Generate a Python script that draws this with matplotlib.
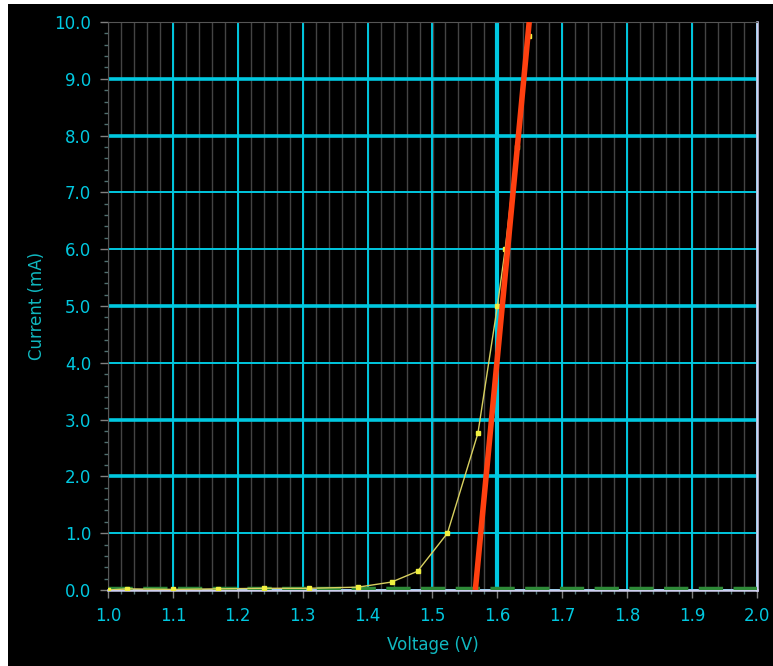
import numpy as np
import matplotlib.pyplot as plt
from matplotlib.patches import Rectangle

# measured I-V curve (V, mA)
voltage = [1.00, 1.03, 1.10, 1.17, 1.24, 1.31, 1.385, 1.437, 1.477, 1.523, 1.570, 1.600, 1.612, 1.630, 1.648]
current = [0.0, 0.02, 0.01, 0.02, 0.03, 0.03, 0.05, 0.14, 0.33, 1.00, 2.76, 5.00, 6.00, 7.80, 9.75]

# linear fit line (threshold extrapolation)
fit_v = [1.566, 1.649]
fit_i = [0.0, 10.0]

xticks = np.round(np.arange(1.0, 2.01, 0.1), 1)
yticks = np.arange(0, 11, 1.0)

cyan = '#00c8e0'
label_col = '#10b8c0'

fig = plt.figure(figsize=(7.73, 6.66), dpi=100, facecolor='white')
fig.patches.append(Rectangle((8/773, 0), 1, 1 - 4/666, transform=fig.transFigure,
                             facecolor='black', edgecolor='none', zorder=-10))
ax = fig.add_axes([108/773, 1 - 590/666, 649/773, 568/666])
ax.set_facecolor('black')

# minor vertical grid every 0.02
for v in np.arange(1.0, 2.0, 0.02):
    ax.axvline(v, color='#444444', lw=1.0, zorder=1)
# major grid
for v in xticks:
    ax.axvline(v, color=cyan, lw=3.0 if v == 1.6 else 1.4, zorder=2)
for i in yticks:
    ax.axhline(i, color=cyan, lw=2.6 if i in (2, 3, 5, 8, 9) else 1.4, zorder=2)

# noise of points along the zero line
ax.plot([1.0, 2.0], [0.03, 0.03], color='#2e8a38', lw=2.5, dashes=(7, 3), zorder=3)

ax.plot(voltage, current, color='#d8d060', lw=1.0, marker='s', ms=3,
        mfc='#f0f040', mec='#f0f040', zorder=4)
ax.plot(fit_v, fit_i, color='#ff4010', lw=4, zorder=5, solid_capstyle='butt')

ax.set_xlim(1.0, 2.0)
ax.set_ylim(0, 10)
ax.set_xticks(xticks)
ax.set_xticklabels([f'{v:.1f}' for v in xticks])
ax.set_yticks(yticks)
ax.set_yticklabels([f'{v:.1f}' for v in yticks])
ax.set_xticks(np.arange(1.0, 2.001, 0.02), minor=True)
ax.set_yticks(np.arange(0, 10.001, 0.2), minor=True)

ax.tick_params(which='major', colors='#808080', labelcolor=cyan, labelsize=12,
               length=6, width=1.0, pad=6)
ax.tick_params(which='minor', colors='#507070', length=3, width=1.0)

for s in ['left', 'top']:
    ax.spines[s].set_color('#555555')
for s in ['bottom', 'right']:
    ax.spines[s].set_color('#d0d0f0')
    ax.spines[s].set_linewidth(1.8)

ax.set_xlabel('Voltage (V)', color=label_col, fontsize=12, labelpad=8)
ax.set_ylabel('Current (mA)', color=label_col, fontsize=12, labelpad=6)

fig.savefig('out.png', dpi=100, facecolor='white')
